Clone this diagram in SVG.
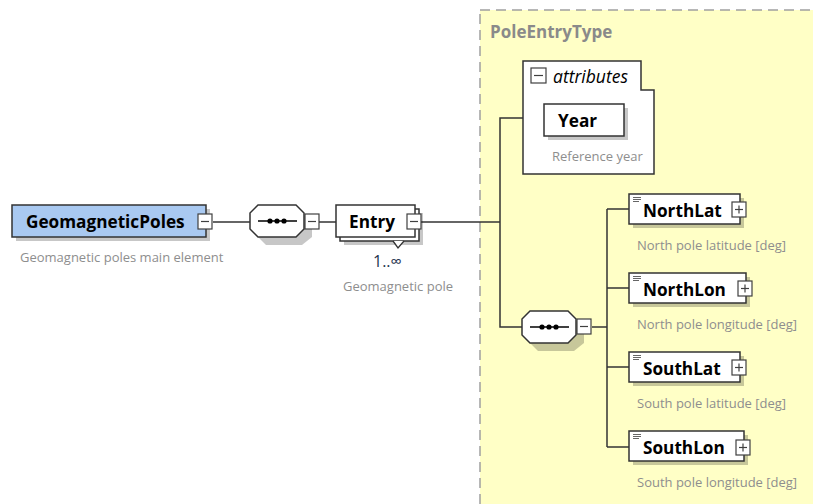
<svg xmlns="http://www.w3.org/2000/svg" width="813" height="504" viewBox="0 0 813 504">
  <defs>
    <style>
      .box { fill: #ffffff; stroke: #333333; stroke-width: 1.5; }
      .root { fill: #a9c9f1; stroke: #333333; stroke-width: 1.5; }
      .shadow { fill: #000000; fill-opacity: 0.22; stroke: none; }
      .btn { fill: #ffffff; stroke: #404040; stroke-width: 1.2; }
      .sign { stroke: #404040; stroke-width: 1.2; fill: none; }
      .wire { stroke: #333333; stroke-width: 1.5; fill: none; }
      .name { font-family: "Open Sans", "Noto Sans", "Liberation Sans", sans-serif; font-weight: bold; font-size: 17.2px; fill: #000000; }
      .note { font-family: "Open Sans", "Noto Sans", "Liberation Sans", sans-serif; font-size: 13px; fill: #8e8e8e; }
      .occ { font-family: "Open Sans", "Noto Sans", "Liberation Sans", sans-serif; font-size: 16px; fill: #1f3450; }
      .title { font-family: "Open Sans", "Noto Sans", "Liberation Sans", sans-serif; font-weight: bold; font-size: 17px; fill: #8a8a8a; }
      .attr { font-family: "Open Sans", "Noto Sans", "Liberation Sans", sans-serif; font-style: italic; font-size: 17.5px; fill: #000000; }
      .doc { stroke: #666666; stroke-width: 1; }
    </style>
    <!-- sequence compositor: octagon with three dots -->
    <g id="seq">
      <path class="shadow" d="M12 4 H48 L58 14 V28 L48 36 H12 L4 28 V14 Z" transform="translate(4,4)"/>
      <path class="box" d="M8 0 H46 L54 8 V24 L46 32 H8 L0 24 V8 Z"/>
      <line x1="8" y1="16" x2="47" y2="16" stroke="#000" stroke-width="1.3"/>
      <circle cx="20" cy="16" r="2.6" fill="#000"/>
      <circle cx="27" cy="16" r="2.6" fill="#000"/>
      <circle cx="34" cy="16" r="2.6" fill="#000"/>
    </g>
    <g id="minus">
      <rect class="btn" x="0" y="0" width="14" height="15"/>
      <line class="sign" x1="3" y1="7.5" x2="11" y2="7.5"/>
    </g>
    <g id="plus">
      <rect class="btn" x="0" y="0" width="14" height="15"/>
      <line class="sign" x1="3" y1="7.5" x2="11" y2="7.5"/>
      <line class="sign" x1="7" y1="3.5" x2="7" y2="11.5"/>
    </g>
    <g id="docicon">
      <line class="doc" x1="0" y1="0.5" x2="8" y2="0.5"/>
      <line class="doc" x1="0" y1="2.5" x2="8" y2="2.5"/>
      <line class="doc" x1="0" y1="4.5" x2="6" y2="4.5"/>
    </g>
  </defs>

  <rect width="813" height="504" fill="#ffffff"/>

  <!-- complex type area -->
  <g id="PoleEntryType">
    <rect x="480" y="10" width="345" height="510" fill="#ffffc6" stroke="#a0a0a0" stroke-width="1.5" stroke-dasharray="10,6"/>
    <text class="title" x="490" y="38">PoleEntryType</text>
  </g>

  <!-- connectors -->
  <g id="connectors">
    <line class="wire" x1="213" y1="222" x2="250" y2="222"/>
    <line class="wire" x1="319" y1="222" x2="337" y2="222"/>
    <line class="wire" x1="421" y1="222" x2="500" y2="222"/>
    <polyline class="wire" points="523,118 500,118 500,327 522,327"/>
    <line class="wire" x1="592" y1="327" x2="607" y2="327"/>
    <line class="wire" x1="607" y1="209" x2="607" y2="447"/>
    <line class="wire" x1="607" y1="209" x2="629" y2="209"/>
    <line class="wire" x1="607" y1="288" x2="629" y2="288"/>
    <line class="wire" x1="607" y1="367" x2="629" y2="367"/>
    <line class="wire" x1="607" y1="447" x2="629" y2="447"/>
  </g>

  <g id="GeomagneticPoles">
    <rect class="shadow" x="16" y="209" width="194" height="32"/>
    <rect class="root" x="12" y="205" width="194" height="32"/>
    <text class="name" x="26" y="228">GeomagneticPoles</text>
    <use href="#minus" x="198" y="214"/>
    <text class="note" x="20" y="262">Geomagnetic poles main element</text>
  </g>

  <g id="sequence1">
    <use href="#seq" x="250" y="205"/>
    <use href="#minus" x="305" y="214"/>
  </g>

  <g id="Entry">
    <rect class="shadow" x="344" y="213" width="79" height="32"/>
    <rect class="box" x="340" y="209" width="79" height="32"/>
    <polyline points="393,241 398,248 404,241" fill="#ffffff" stroke="#333333" stroke-width="1.3"/>
    <rect class="box" x="336" y="205" width="79" height="32"/>
    <text class="name" x="349" y="228">Entry</text>
    <use href="#minus" x="407" y="214"/>
    <text class="occ" x="373" y="267">1..∞</text>
    <text class="note" x="343" y="291">Geomagnetic pole</text>
  </g>

  <g id="attributes">
    <path class="box" d="M523 61 H641 V90 H654 V174 H523 Z"/>
    <rect class="btn" x="531" y="68" width="15" height="15"/>
    <line class="sign" x1="534" y1="75.5" x2="543" y2="75.5"/>
    <text class="attr" x="553" y="83">attributes</text>
    <g id="Year">
      <rect class="shadow" x="548" y="108" width="80" height="32"/>
      <rect class="box" x="544" y="104" width="80" height="32"/>
      <text class="name" x="558" y="127">Year</text>
      <text class="note" x="552" y="161">Reference year</text>
    </g>
  </g>

  <g id="sequence2">
    <use href="#seq" x="522" y="311"/>
    <use href="#minus" x="577" y="319"/>
  </g>

  <g id="NorthLat">
    <rect class="shadow" x="633" y="198" width="111" height="30"/>
    <rect class="box" x="629" y="194" width="111" height="30"/>
    <use href="#docicon" x="633" y="197"/>
    <text class="name" x="643" y="217">NorthLat</text>
    <use href="#plus" x="732" y="202"/>
    <text class="note" x="637" y="250">North pole latitude [deg]</text>
  </g>

  <g id="NorthLon">
    <rect class="shadow" x="633" y="277" width="117" height="30"/>
    <rect class="box" x="629" y="273" width="117" height="30"/>
    <use href="#docicon" x="633" y="276"/>
    <text class="name" x="643" y="296">NorthLon</text>
    <use href="#plus" x="738" y="281"/>
    <text class="note" x="637" y="329">North pole longitude [deg]</text>
  </g>

  <g id="SouthLat">
    <rect class="shadow" x="633" y="356" width="111" height="30"/>
    <rect class="box" x="629" y="352" width="111" height="30"/>
    <use href="#docicon" x="633" y="355"/>
    <text class="name" x="643" y="375">SouthLat</text>
    <use href="#plus" x="732" y="360"/>
    <text class="note" x="637" y="408">South pole latitude [deg]</text>
  </g>

  <g id="SouthLon">
    <rect class="shadow" x="633" y="435" width="115" height="30"/>
    <rect class="box" x="629" y="431" width="115" height="30"/>
    <use href="#docicon" x="633" y="434"/>
    <text class="name" x="643" y="454">SouthLon</text>
    <use href="#plus" x="736" y="440"/>
    <text class="note" x="637" y="487">South pole longitude [deg]</text>
  </g>
</svg>
